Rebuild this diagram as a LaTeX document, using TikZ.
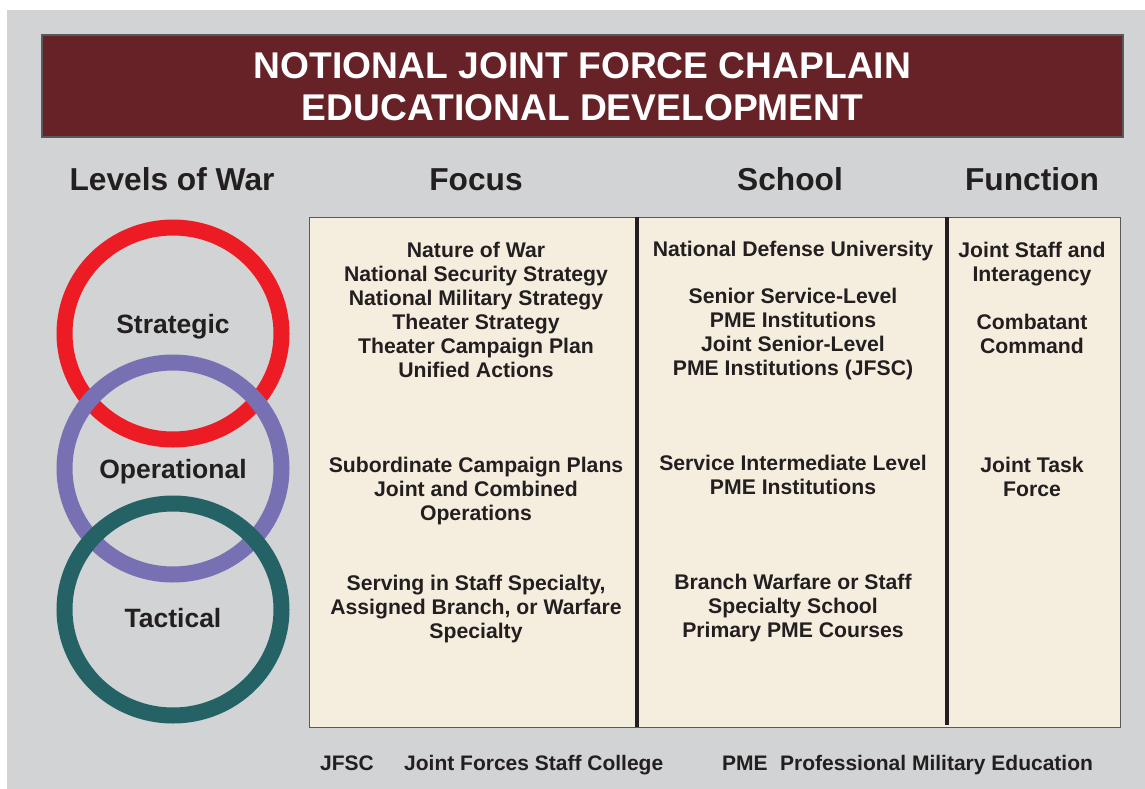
\documentclass[tikz,border=0pt]{standalone}
\usepackage{fontspec}
\setmainfont{Liberation Sans}
\usepackage{xcolor}
\usepackage{tikz}

\definecolor{pagegray}{HTML}{D1D3D4}
\definecolor{titlered}{HTML}{662226}
\definecolor{panelcream}{HTML}{F5EEDE}
\definecolor{inkdark}{HTML}{231F20}
\definecolor{ringred}{HTML}{ED1C24}
\definecolor{ringpurple}{HTML}{7771B4}
\definecolor{ringteal}{HTML}{246266}
\definecolor{edgegray}{HTML}{58595B}

\begin{document}
\begin{tikzpicture}[x=1pt, y=-1pt,
        heading/.style={font=\fontsize{31.7}{38}\selectfont\bfseries, text=inkdark, anchor=base, inner sep=0pt},
        cell/.style={font=\fontsize{21.2}{24}\selectfont\bfseries, text=inkdark, align=center, anchor=north, inner sep=0pt},
        level/.style={font=\fontsize{26.5}{30}\selectfont\bfseries, text=inkdark, anchor=base, inner sep=0pt},
        ring/.style={line width=16pt},
        note/.style={font=\fontsize{21}{24}\selectfont\bfseries, text=inkdark, anchor=base west, inner sep=0pt}]
        \useasboundingbox (0,0) rectangle (1145,789);
        \fill[pagegray] (7,10) rectangle (1145,789);

        % Title bar
        \draw[fill=titlered, draw=edgegray, line width=1.5pt] (42,35) rectangle (1123,137);
        \node[font=\fontsize{37.2}{42}\selectfont\bfseries, text=white, align=center] (title) at (582.5,87) {NOTIONAL JOINT FORCE CHAPLAIN\\EDUCATIONAL DEVELOPMENT};

        % Column headings
        \node[heading] (hlevels) at (172,190) {Levels of War};
        \node[heading] (hfocus) at (476,190) {Focus};
        \node[heading] (hschool) at (790,190) {School};
        \node[heading] (hfunction) at (1032,190) {Function};

        % Levels of war rings
        \draw[ring, ringred] (173,333.5) ellipse [x radius=108.5, y radius=106];
        \draw[ring, ringpurple] (173,468.5) ellipse [x radius=108.5, y radius=106];
        \draw[ring, ringteal] (173,609.5) ellipse [x radius=108.5, y radius=106];
        \node[level] (strategic) at (173,333.5) {Strategic};
        \node[level] (operational) at (173,478) {Operational};
        \node[level] (tactical) at (173,627) {Tactical};

        % Table panel
        \draw[fill=panelcream, draw=edgegray, line width=1pt] (309,217) rectangle (1120,727);
        \draw[inkdark, line width=4pt] (637,217) -- (637,727);
        \draw[inkdark, line width=4pt] (947,217) -- (947,725);

        % Focus
        \node[cell] (fstrat) at (476,242) {Nature of War\\National Security Strategy\\National Military Strategy\\Theater Strategy\\Theater Campaign Plan\\Unified Actions};
        \node[cell] (foper) at (476,457) {Subordinate Campaign Plans\\Joint and Combined\\Operations};
        \node[cell] (ftact) at (476,575) {Serving in Staff Specialty,\\Assigned Branch, or Warfare\\Specialty};

        % School
        \node[cell] (sndu) at (793,241) {National Defense University};
        \node[cell] (sstrat) at (793,288) {Senior Service-Level\\PME Institutions\\Joint Senior-Level\\PME Institutions (JFSC)};
        \node[cell] (soper) at (793,455) {Service Intermediate Level\\PME Institutions};
        \node[cell] (stact) at (793,574) {Branch Warfare or Staff\\Specialty School\\Primary PME Courses};

        % Function
        \node[cell] (njoint) at (1032,242) {Joint Staff and\\Interagency};
        \node[cell] (ncombat) at (1032,314) {Combatant\\Command};
        \node[cell] (ntask) at (1032,457) {Joint Task\\Force};

        % Footer
        \node[note] (jfsc) at (320,770) {JFSC};
        \node[note] (jfscdef) at (404,770) {Joint Forces Staff College};
        \node[note] (pme) at (722,770) {PME};
        \node[note] (pmedef) at (780,770) {Professional Military Education};
\end{tikzpicture}
\end{document}
